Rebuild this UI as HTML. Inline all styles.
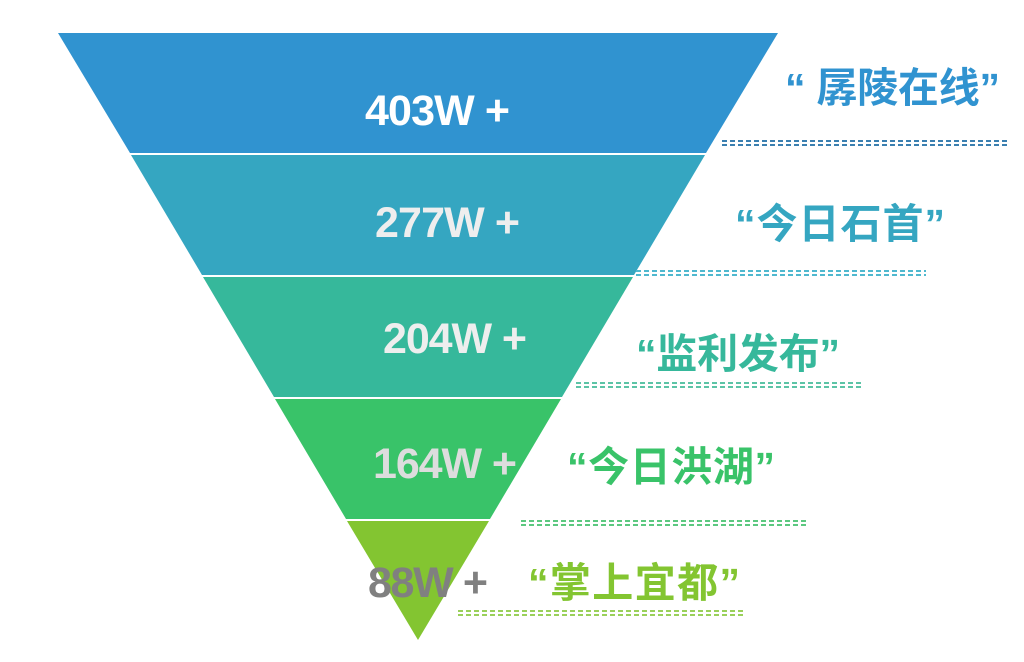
<!DOCTYPE html>
<html><head><meta charset="utf-8"><style>
html,body{margin:0;padding:0;background:#fff;}
svg{display:block;}
text{font-family:"Liberation Sans","Noto Sans CJK SC",sans-serif;font-weight:bold;}
</style></head><body>
<svg width="1024" height="662" viewBox="0 0 1024 662" xmlns="http://www.w3.org/2000/svg">
<polygon points="58,33 778,33 706,153 130,153" fill="#3093d0"/>
<polygon points="131,155 705,155 634,275 202,275" fill="#35a6c1"/>
<polygon points="203,277 633,277 562,397 274,397" fill="#36b89b"/>
<polygon points="275,399 561,399 490,519 346,519" fill="#39c369"/>
<polygon points="347,521 489,521 418,640" fill="#83c531"/>

<text x="365" y="125" font-size="43" fill="#fff" textLength="145" lengthAdjust="spacing">403W +</text>
<text x="375" y="237" font-size="43" fill="#eee" textLength="145" lengthAdjust="spacing">277W +</text>
<text x="383" y="353" font-size="43" fill="#eee" textLength="144" lengthAdjust="spacing">204W +</text>
<text x="373" y="478" font-size="43" fill="#ddd" textLength="144" lengthAdjust="spacing">164W +</text>
<text x="368" y="597" font-size="43" fill="#808080" textLength="120" lengthAdjust="spacing">88W +</text>

<text x="785" y="102" font-size="41" fill="#3093d0" textLength="215" lengthAdjust="spacing">“ 孱陵在线”</text>
<text x="735" y="238" font-size="41" fill="#35a6c1" textLength="210" lengthAdjust="spacing">“今日石首”</text>
<text x="636" y="368" font-size="41" fill="#36b89b" textLength="204" lengthAdjust="spacing">“监利发布”</text>
<text x="567" y="481" font-size="41" fill="#39c369" textLength="208" lengthAdjust="spacing">“今日洪湖”</text>
<text x="528" y="597" font-size="41" fill="#83c531" textLength="212" lengthAdjust="spacing">“掌上宜都”</text>

<g stroke-width="2" stroke-dasharray="5 3" fill="none">
<g stroke="#3a7fb0"><line x1="722" y1="141" x2="1010" y2="141"/><line x1="722" y1="145" x2="1010" y2="145"/></g>
<g stroke="#4fb8cf"><line x1="636" y1="271" x2="926" y2="271"/><line x1="636" y1="275" x2="926" y2="275"/></g>
<g stroke="#5cc4a6"><line x1="576" y1="383" x2="862" y2="383"/><line x1="576" y1="387" x2="862" y2="387"/></g>
<g stroke="#5cc880"><line x1="521" y1="521" x2="809" y2="521"/><line x1="521" y1="525" x2="809" y2="525"/></g>
<g stroke="#9ad05a"><line x1="458" y1="611" x2="746" y2="611"/><line x1="458" y1="615" x2="746" y2="615"/></g>
</g>
</svg>
</body></html>
